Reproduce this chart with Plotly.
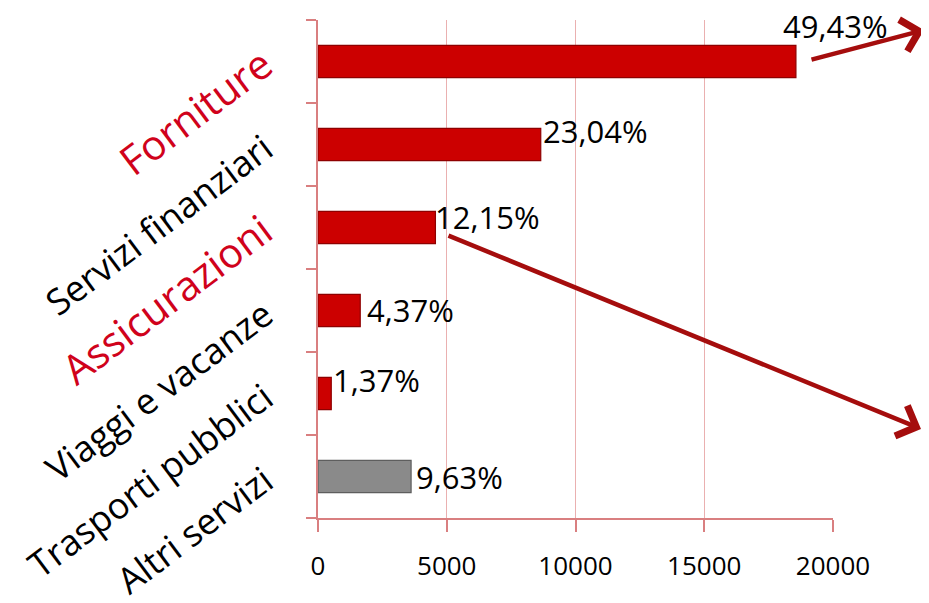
import plotly.graph_objects as go

# ---- data ----
categories = ["Forniture", "Servizi finanziari", "Assicurazioni",
              "Viaggi e vacanze", "Trasporti pubblici", "Altri servizi"]
values = [18560, 8650, 4560, 1640, 515, 3615]
pct_labels = ["49,43%", "23,04%", "12,15%", "4,37%", "1,37%", "9,63%"]
highlight = ["Forniture", "Assicurazioni"]
x_ticks = [0, 5000, 10000, 15000, 20000]

# ---- styles ----
FONT = "Open Sans"
RED = "#cc0000"
RED_EDGE = "#8e0000"
GREY = "#8a8a8a"
GREY_EDGE = "#5e5e5e"
ARROW = "#a50d0d"
AXIS = "#d97f80"
GRID = "#eab0b0"
label_shift = {"Forniture": (-15, 36), "Servizi finanziari": (0, 14),
               "Assicurazioni": (-2, 11), "Viaggi e vacanze": (5, 1),
               "Trasporti pubblici": (0, 14), "Altri servizi": (3, 0)}

W, H = 929, 603
OFF = 8  # page body margin
# desired plot box in screen pixels
BOX_L, BOX_R, BOX_T, BOX_B = 318, 833, 20, 518
ML, MT = BOX_L - OFF, BOX_T - OFF
MR = (OFF + W) - BOX_R
MB = (OFF + H) - BOX_B
PW, PH = BOX_R - BOX_L, BOX_B - BOX_T

colors = [GREY if c == "Altri servizi" else RED for c in categories]
edges = [GREY_EDGE if c == "Altri servizi" else RED_EDGE for c in categories]

fig = go.Figure()
fig.add_trace(go.Bar(
    y=categories, x=values, orientation="h", width=0.39,
    marker=dict(color=colors, line=dict(color=edges, width=1.2)),
    hoverinfo="skip",
))

def ticktext(c):
    if c in highlight:
        return f'<span style="color:#d0021b;font-size:41px">{c}</span>'
    return c

annotations = []
for c, v, t in zip(categories, values, pct_labels):
    dx, dy = label_shift[c]
    annotations.append(dict(
        x=v, y=c, xref="x", yref="y", text=t, showarrow=False,
        xanchor="left", yanchor="middle", xshift=dx, yshift=dy,
        font=dict(family=FONT, size=31, color="#000000"),
    ))

def px2paper(px, py):
    return (px - BOX_L) / PW, (BOX_B - py) / PH

# decorative arrows (screen pixel positions of head and tail)
arrows = [((924, 30), (810, 60)), ((921, 429), (447, 235))]
for (hx, hy), (tx, ty) in arrows:
    x, y = px2paper(hx, hy)
    annotations.append(dict(
        x=x, y=y, xref="paper", yref="paper", text="", showarrow=True,
        ax=tx - hx, ay=ty - hy, arrowhead=4, arrowsize=1.4,
        arrowwidth=4.5, arrowcolor=ARROW,
    ))

fig.update_layout(
    width=W, height=H,
    margin=dict(l=ML, r=MR, t=MT, b=MB, autoexpand=False),
    paper_bgcolor="white", plot_bgcolor="white",
    showlegend=False,
    font=dict(family=FONT, color="#000000"),
    annotations=annotations,
    xaxis=dict(
        range=[0, 20000], tickvals=x_ticks, ticktext=[str(v) for v in x_ticks],
        showgrid=True, gridcolor=GRID, gridwidth=1.2,
        showline=True, linecolor=AXIS, linewidth=2,
        ticks="outside", ticklen=12, tickwidth=2, tickcolor=AXIS,
        tickfont=dict(family=FONT, size=26, color="#000000"),
        ticklabelstandoff=12, zeroline=False, fixedrange=True,
    ),
    yaxis=dict(
        type="category", categoryorder="array", categoryarray=categories,
        autorange="reversed",
        tickvals=categories, ticktext=[ticktext(c) for c in categories],
        tickson="boundaries", ticks="outside", ticklen=10, tickwidth=2,
        tickcolor=AXIS, showline=True, linecolor=AXIS, linewidth=2,
        showgrid=False, tickangle=-37,
        tickfont=dict(family=FONT, size=36, color="#000000"),
        ticklabelstandoff=44, fixedrange=True,
    ),
)

fig.write_html("out.html")
